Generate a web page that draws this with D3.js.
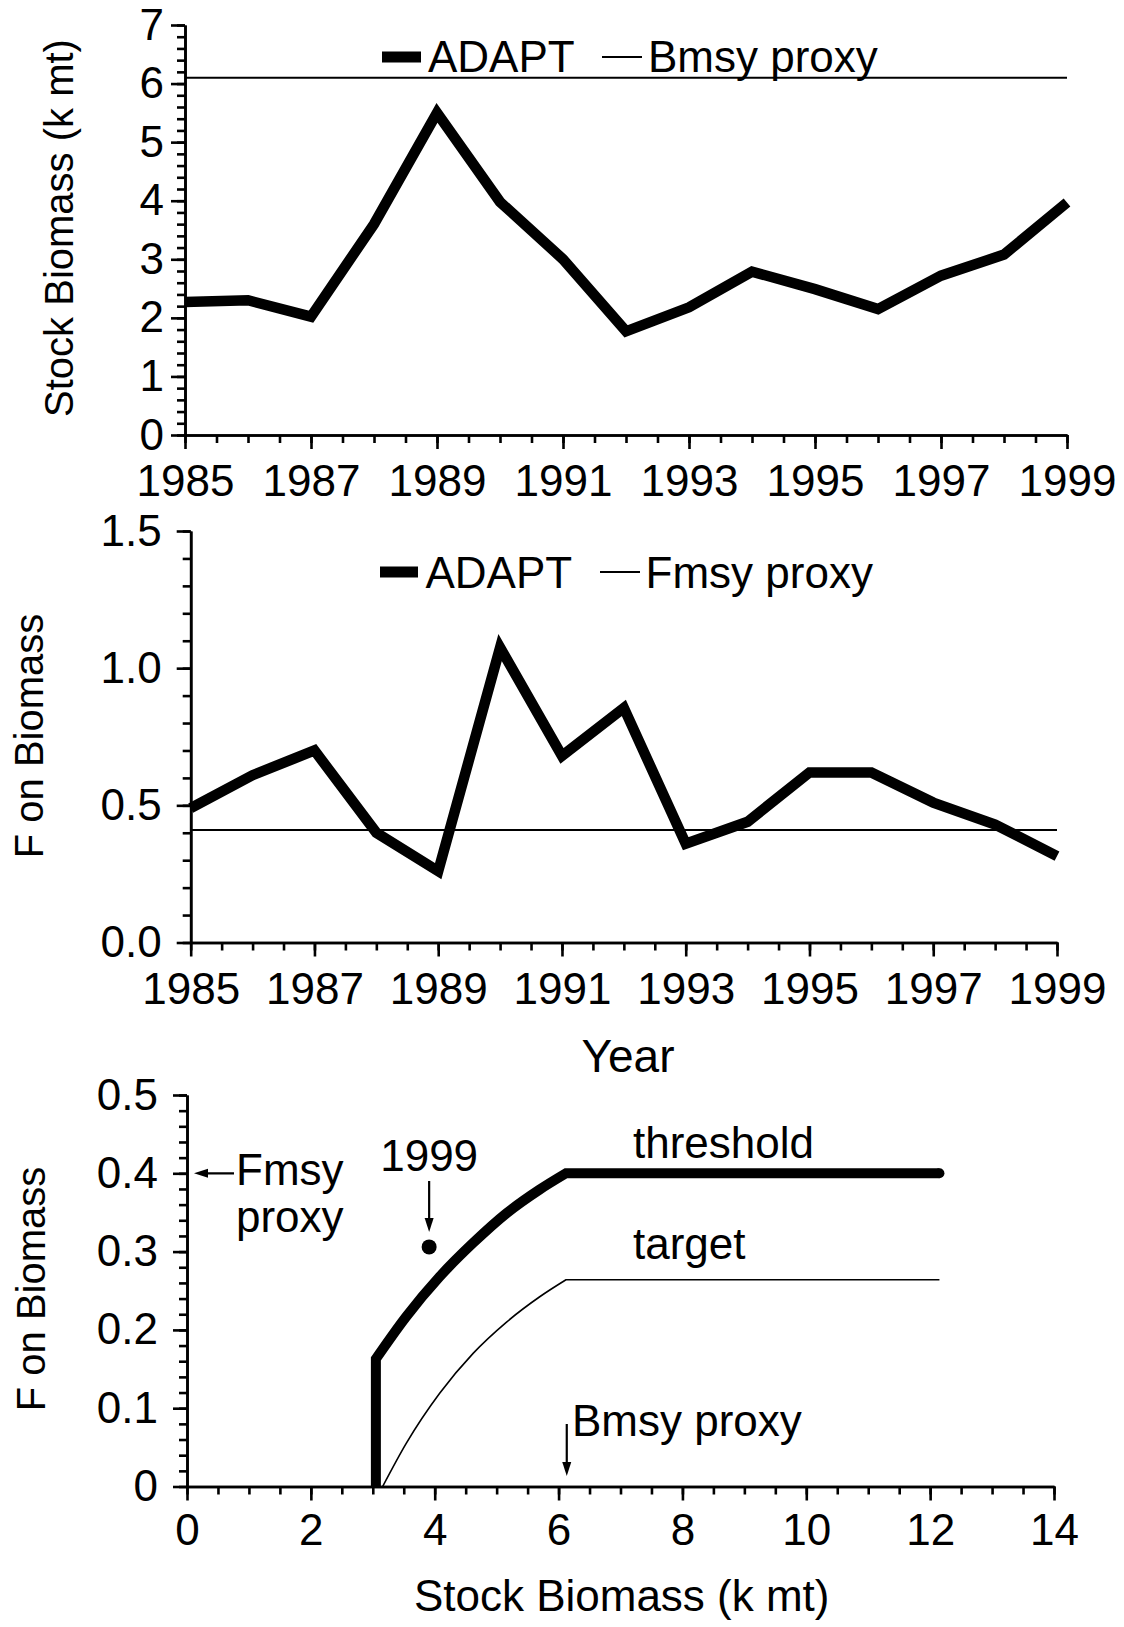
<!DOCTYPE html>
<html><head><meta charset="utf-8">
<script src="https://cdn.jsdelivr.net/npm/d3@7"></script>
<style>
html,body{margin:0;padding:0;background:#fff;}
svg{display:block;}
text{font-family:"Liberation Sans",Arial,Helvetica,sans-serif;fill:#000;}
</style></head><body>
<svg id="chart" width="1124" height="1627"></svg>
<script>
// ---------- data ----------
const years = [1985,1986,1987,1988,1989,1990,1991,1992,1993,1994,1995,1996,1997,1998,1999];
const stockBiomass = [2.27,2.30,2.02,3.60,5.50,3.98,3.00,1.77,2.18,2.79,2.49,2.15,2.72,3.08,3.97];
const bmsyProxy = 6.1;
const fOnBiomass = [0.49,0.61,0.70,0.40,0.26,1.075,0.68,0.855,0.36,0.44,0.62,0.62,0.51,0.43,0.315];
const fmsyProxy = 0.41;
const thresholdB = [3.05,3.05,3.54,4.08,4.62,5.16,5.69,6.12,12.15];
const thresholdF = [0,0.163,0.217,0.268,0.311,0.349,0.379,0.400,0.400];
const targetB = [3.16,3.54,4.08,4.62,5.16,5.69,6.12,12.15];
const targetF = [0,0.055,0.119,0.170,0.210,0.242,0.264,0.264];
const point1999B = 3.91, point1999F = 0.306;
const fmsyRef = 0.4;
const yearTicks = [1985,1987,1989,1991,1993,1995,1997,1999];
const biomassTicks = [0,1,2,3,4,5,6,7];
const fTicks = [0,0.5,1.0,1.5];
const refBTicks = [0,2,4,6,8,10,12,14];
const refFTicks = [0,0.1,0.2,0.3,0.4,0.5];

// ---------- helpers ----------
const svg = d3.select("#chart");
const FS = 44;
function minorRange(a,b,s){const r=[];for(let v=a;v<=b+1e-9;v+=s)r.push(+v.toFixed(4));return r;}

function axes(x, y, o){
  const g = svg.append("g");
  const y0 = y.range()[0], x0 = x.range()[0];
  g.append("g").attr("transform",`translate(0,${y0})`)
    .call(d3.axisBottom(x).tickValues(o.xMinor).tickSize(8).tickSizeOuter(0).tickFormat(""));
  g.append("g").attr("class","lab").attr("transform",`translate(0,${y0})`)
    .call(d3.axisBottom(x).tickValues(o.xMajor).tickSize(14).tickSizeOuter(0).tickPadding(o.xPad).tickFormat(o.xFmt));
  g.append("g").attr("transform",`translate(${x0},0)`)
    .call(d3.axisLeft(y).tickValues(o.yMinor).tickSize(8).tickSizeOuter(0).tickFormat(""));
  g.append("g").attr("class","lab").attr("transform",`translate(${x0},0)`)
    .call(d3.axisLeft(y).tickValues(o.yMajor).tickSize(14).tickSizeOuter(0).tickPadding(o.yPad).tickFormat(o.yFmt));
  g.selectAll("g").attr("font-size",null).attr("font-family",null);
  g.selectAll("path.domain").attr("stroke","#000").attr("stroke-width",2.6);
  g.selectAll(".tick line").attr("stroke","#000").attr("stroke-width",2.6);
  g.selectAll(".tick text").style("font-size",FS+"px").attr("fill","#000");
  return g;
}
function txt(x,y,s,anchor,size){
  return svg.append("text").attr("x",x).attr("y",y).attr("text-anchor",anchor||"start")
    .style("font-size",(size||FS)+"px").text(s);
}
function vtitle(x,y,s,size){
  return svg.append("text").attr("transform",`translate(${x},${y}) rotate(-90)`)
    .attr("text-anchor","middle").style("font-size",(size||40)+"px").text(s);
}
function arrowDown(x,y1,y2){
  svg.append("line").attr("x1",x).attr("x2",x).attr("y1",y1).attr("y2",y2-6)
    .attr("stroke","#000").attr("stroke-width",2.2);
  svg.append("path").attr("d",`M${x-4.5},${y2-14}L${x},${y2}L${x+4.5},${y2-14}Z`).attr("fill","#000");
}
function arrowLeft(x1,x2,y){
  svg.append("line").attr("x1",x1+6).attr("x2",x2).attr("y1",y).attr("y2",y)
    .attr("stroke","#000").attr("stroke-width",2.2);
  svg.append("path").attr("d",`M${x1+14},${y-4.5}L${x1},${y}L${x1+14},${y+4.5}Z`).attr("fill","#000");
}

// ---------- panel 1 ----------
const x1 = d3.scaleLinear().domain([1985,1999]).range([185,1067]);
const y1 = d3.scaleLinear().domain([0,7]).range([435,25]);
axes(x1,y1,{xMinor:minorRange(1985,1999,0.5),xMajor:yearTicks,xPad:16,xFmt:d3.format("d"),
  yMinor:minorRange(0,7,0.2),yMajor:biomassTicks,yPad:7,yFmt:d3.format("d")});
svg.append("line").attr("x1",x1(1985)).attr("x2",x1(1999)).attr("y1",y1(bmsyProxy)).attr("y2",y1(bmsyProxy))
  .attr("stroke","#000").attr("stroke-width",2);
svg.append("path").datum(years.map((yr,i)=>[yr,stockBiomass[i]]))
  .attr("d",d3.line().x(d=>x1(d[0])).y(d=>y1(d[1])))
  .attr("fill","none").attr("stroke","#000").attr("stroke-width",10.5).attr("stroke-linejoin","miter");
vtitle(73,228,"Stock Biomass (k mt)");
svg.append("line").attr("x1",382).attr("x2",421).attr("y1",57).attr("y2",57).attr("stroke","#000").attr("stroke-width",11);
txt(428,72,"ADAPT");
svg.append("line").attr("x1",602).attr("x2",642).attr("y1",57).attr("y2",57).attr("stroke","#000").attr("stroke-width",2);
txt(648,72,"Bmsy proxy");

// ---------- panel 2 ----------
const x2 = d3.scaleLinear().domain([1985,1999]).range([190.7,1057]);
const y2 = d3.scaleLinear().domain([0,1.5]).range([942.5,531]);
axes(x2,y2,{xMinor:minorRange(1985,1999,0.5),xMajor:yearTicks,xPad:16,xFmt:d3.format("d"),
  yMinor:minorRange(0,1.5,0.1),yMajor:fTicks,yPad:15,yFmt:d3.format(".1f")});
svg.append("line").attr("x1",x2(1985)).attr("x2",x2(1999)).attr("y1",y2(fmsyProxy)).attr("y2",y2(fmsyProxy))
  .attr("stroke","#000").attr("stroke-width",2);
svg.append("path").datum(years.map((yr,i)=>[yr,fOnBiomass[i]]))
  .attr("d",d3.line().x(d=>x2(d[0])).y(d=>y2(d[1])))
  .attr("fill","none").attr("stroke","#000").attr("stroke-width",10.5).attr("stroke-linejoin","miter");
vtitle(43,736,"F on Biomass");
txt(628,1072,"Year","middle",46);
svg.append("line").attr("x1",380).attr("x2",418).attr("y1",572).attr("y2",572).attr("stroke","#000").attr("stroke-width",11);
txt(425.5,588,"ADAPT");
svg.append("line").attr("x1",600).attr("x2",640).attr("y1",572).attr("y2",572).attr("stroke","#000").attr("stroke-width",2);
txt(645.6,588,"Fmsy proxy");

// ---------- panel 3 ----------
const x3 = d3.scaleLinear().domain([0,14]).range([187,1054]);
const y3 = d3.scaleLinear().domain([0,0.5]).range([1486.5,1095]);
axes(x3,y3,{xMinor:minorRange(0,14,0.5),xMajor:refBTicks,xPad:13,xFmt:d3.format("d"),
  yMinor:minorRange(0,0.5,0.02),yMajor:refFTicks,yPad:15,yFmt:d=>d===0?"0":d3.format(".1f")(d)});

const curveLine = d3.line().x(d=>x3(d[0])).y(d=>y3(d[1])).curve(d3.curveMonotoneX);
// build a path: optional straight lead-in, curved rise up to the knee, straight plateau
function rulePath(B, F, leadIn){
  const pts = B.map((b,i)=>[b,F[i]]);
  const fMax = d3.max(F);
  const knee = F.indexOf(fMax);
  const start = leadIn ? 1 : 0;
  let p = "";
  if (leadIn) p += `M${x3(pts[0][0])},${y3(pts[0][1])}L` + curveLine(pts.slice(start, knee+1)).slice(1);
  else p += curveLine(pts.slice(start, knee+1));
  for (let i = knee+1; i < pts.length; i++) p += `L${x3(pts[i][0])},${y3(pts[i][1])}`;
  return p;
}
// threshold
svg.append("path").attr("d",rulePath(thresholdB, thresholdF, true)).attr("fill","none").attr("stroke","#000")
  .attr("stroke-width",10).attr("stroke-linejoin","miter").attr("stroke-linecap","butt");
svg.append("circle").attr("cx",x3(thresholdB[thresholdB.length-1])).attr("cy",y3(thresholdF[thresholdF.length-1]))
  .attr("r",5).attr("fill","#000");
// target
svg.append("path").attr("d",rulePath(targetB, targetF, false))
  .attr("fill","none").attr("stroke","#000").attr("stroke-width",1.6);
// 1999 point
svg.append("circle").attr("cx",x3(point1999B)).attr("cy",y3(point1999F)).attr("r",7.5).attr("fill","#000");
arrowDown(x3(point1999B),1181,1232);
txt(x3(point1999B),1171,"1999","middle");
// labels
txt(633,1158,"threshold");
txt(633,1259,"target");
arrowLeft(x3(0)+7,234,y3(fmsyRef));
txt(236,1185,"Fmsy");
txt(236,1232,"proxy");
arrowDown(x3(bmsyProxy)+2,1424,1476);
txt(572,1436,"Bmsy proxy");
vtitle(45,1289,"F on Biomass");
txt(621.7,1611,"Stock Biomass (k mt)","middle");
</script>
</body></html>
